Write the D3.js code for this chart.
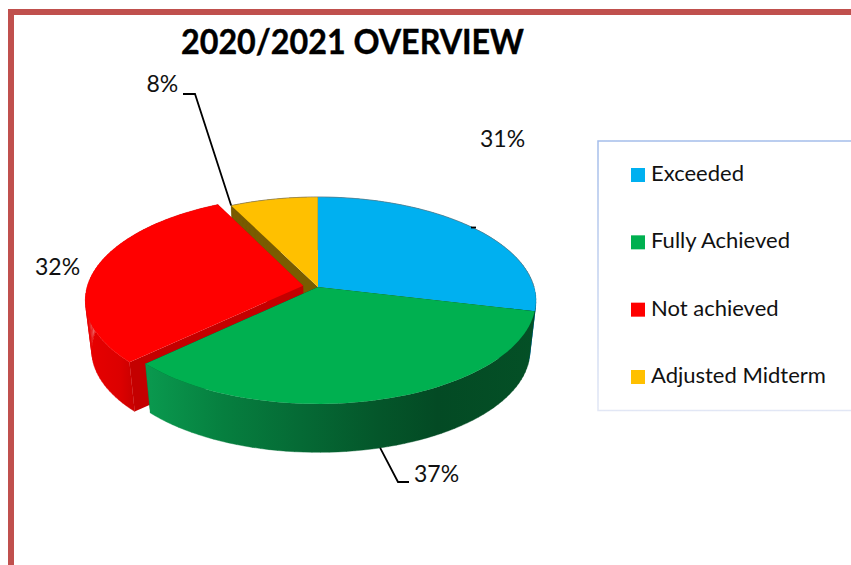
<!DOCTYPE html>
<html>
<head>
<meta charset="utf-8">
<script src="https://cdn.jsdelivr.net/npm/d3@7/dist/d3.min.js"></script>
<style>
  html, body { margin: 0; padding: 0; background: #fff; }
  svg { display: block; }
  text { font-family: Lato, "Open Sans", sans-serif; fill: #111; }
</style>
</head>
<body>
<svg id="chart" width="851" height="565"></svg>
<script>
// Chart content
const chartTitle = "2020/2021 OVERVIEW";
const categories = ["Exceeded", "Fully Achieved", "Not achieved", "Adjusted Midterm"];
const shares = [31, 37, 32, 8];
const topColors = ["#00b0f0", "#00b050", "#ff0000", "#ffc000"];
const faceColors = ["#00668c", "#00401f", "#c40000", "#7a5c00"];
const explodeBy = [0, 0, 0.07, 0];

const svg = d3.select("#chart");
const defs = svg.append("defs");

// Frame around the slide
svg.append("rect").attr("x", 11).attr("y", 12).attr("width", 900).attr("height", 600)
  .attr("fill", "#fff").attr("stroke", "#c0504d").attr("stroke-width", 6);

// Tilted-disc projection: u is across the disc, v runs from back (-1) to front (+1)
const perspective = -0.13;
function project(u, v, level) {
  const p = level === "top"
    ? { x0: 318, y0: 287, sx: 216, sy: 101.7 }
    : { x0: 318, y0: 338, sx: 210, sy: 99.5 };
  const w = 1 + perspective * v;
  return [p.x0 + p.sx * u / w, p.y0 + p.sy * v / w];
}
function rimPoint(angle, level, offset) {
  const o = offset || [0, 0];
  return project(Math.sin(angle) + o[0], -Math.cos(angle) + o[1], level);
}
function apexPoint(level, offset) {
  const o = offset || [0, 0];
  return project(o[0], o[1], level);
}
function rimArc(a0, a1, level, offset) {
  return d3.range(0, 61).map(i => rimPoint(a0 + (a1 - a0) * i / 60, level, offset));
}

const slices = d3.pie().sort(null)(shares).map((s, i) => {
  const mid = (s.startAngle + s.endAngle) / 2;
  return {
    ...s, i, mid,
    offset: [Math.sin(mid) * explodeBy[i], -Math.cos(mid) * explodeBy[i]]
  };
});

// Horizontal shading for the outer walls
function wallGradient(id, stops, x1, x2) {
  const g = defs.append("linearGradient").attr("id", id)
    .attr("gradientUnits", "userSpaceOnUse")
    .attr("x1", x1).attr("x2", x2).attr("y1", 0).attr("y2", 0);
  stops.forEach(([o, c]) => g.append("stop").attr("offset", o).attr("stop-color", c));
}
wallGradient("wall-green",
  [[0, "#0a9a4f"], [0.2, "#067f3f"], [0.4, "#056a35"], [0.6, "#04562a"], [0.75, "#034a24"], [1, "#045026"]], 145, 535);
wallGradient("wall-red", [[0, "#e80000"], [0.7, "#dc0000"], [1, "#c80000"]], 86, 135);
const wallFill = i => i === 1 ? "url(#wall-green)" : i === 2 ? "url(#wall-red)" : faceColors[i];

const closed = d3.line().curve(d3.curveLinear);
const pie3d = svg.append("g");

// Paint from the back of the disc to the front
[3, 0, 2, 1].forEach(i => {
  const s = slices[i];
  const g = pie3d.append("g");

  // Cut faces along both radial edges
  [s.startAngle, s.endAngle].forEach(a => {
    g.append("path")
      .attr("d", closed([
        apexPoint("top", s.offset), rimPoint(a, "top", s.offset),
        rimPoint(a, "bottom", s.offset), apexPoint("bottom", s.offset)
      ]) + "Z")
      .attr("fill", faceColors[i]);
  });

  // Outer wall, swept as one quad per rim step so the silhouette stays filled
  const upper = rimArc(s.startAngle, s.endAngle, "top", s.offset);
  const lower = rimArc(s.startAngle, s.endAngle, "bottom", s.offset);
  const wall = d3.range(0, upper.length - 1)
    .map(k => closed([upper[k], upper[k + 1], lower[k + 1], lower[k]]) + "Z")
    .join("");
  g.append("path").attr("d", wall).attr("fill", wallFill(i))
    .attr("fill-rule", "nonzero").attr("stroke", wallFill(i)).attr("stroke-width", 0.4);

  // Top surface
  g.append("path")
    .attr("d", closed([apexPoint("top", s.offset), ...upper]) + "Z")
    .attr("fill", topColors[i]);

  // Thin grey highlight on the far rim
  if (i === 0 || i === 3) {
    const a1 = i === 3 ? s.endAngle : Math.PI / 2;
    g.append("path")
      .attr("d", closed(rimArc(s.startAngle, a1, "top", s.offset)))
      .attr("fill", "none").attr("stroke", "#777").attr("stroke-width", 0.7).attr("stroke-opacity", 0.7);
  }
});

// Title
svg.append("text").attr("x", 181).attr("y", 53.5)
  .attr("font-size", 34).attr("font-weight", 700)
  .attr("textLength", 343).attr("lengthAdjust", "spacingAndGlyphs")
  .attr("stroke", "#000").attr("stroke-width", 0.4)
  .style("fill", "#000")
  .text(chartTitle);

// Data labels with their leader lines
const labelAt = [
  { x: 480, y: 146.5 },
  { x: 414, y: 482 },
  { x: 35, y: 274.5 },
  { x: 146.5, y: 91.5 }
];
svg.selectAll("text.share").data(slices).join("text")
  .attr("class", "share")
  .attr("x", d => labelAt[d.i].x).attr("y", d => labelAt[d.i].y)
  .attr("font-size", 23)
  .text(d => d.value + "%");

const leader = d3.line();
const yellowRim = rimPoint(slices[3].startAngle, "top");
const greenRim = rimPoint(slices[1].mid, "bottom");
[
  [[183, 94], [195, 94], yellowRim],
  [greenRim, [398, 482], [409, 482]],
  [[471, 227.5], [476, 227.5]]
].forEach(pts => {
  svg.append("path").attr("d", leader(pts))
    .attr("fill", "none").attr("stroke", "#000").attr("stroke-width", 1.8);
});

// Legend box, open on its right side and fading towards the bottom
const edge = defs.append("linearGradient").attr("id", "legend-edge")
  .attr("gradientUnits", "userSpaceOnUse")
  .attr("x1", 0).attr("x2", 0).attr("y1", 140).attr("y2", 411);
edge.append("stop").attr("offset", 0).attr("stop-color", "#a4bdea");
edge.append("stop").attr("offset", 1).attr("stop-color", "#e2e7f5");
svg.append("path").attr("d", "M851,141H598V410.5H851")
  .attr("fill", "#fff").attr("stroke", "url(#legend-edge)").attr("stroke-width", 1.5);

const legendY = d3.scalePoint().domain(categories).range([175, 377]);
const legend = svg.selectAll("g.legend").data(categories).join("g").attr("class", "legend")
  .attr("transform", d => `translate(631,${legendY(d)})`);
legend.append("rect").attr("y", -7).attr("width", 14).attr("height", 14)
  .attr("fill", (d, i) => topColors[i]);
legend.append("text").attr("x", 20).attr("y", 6)
  .attr("font-size", 22)
  .text(d => d);
</script>
</body>
</html>
